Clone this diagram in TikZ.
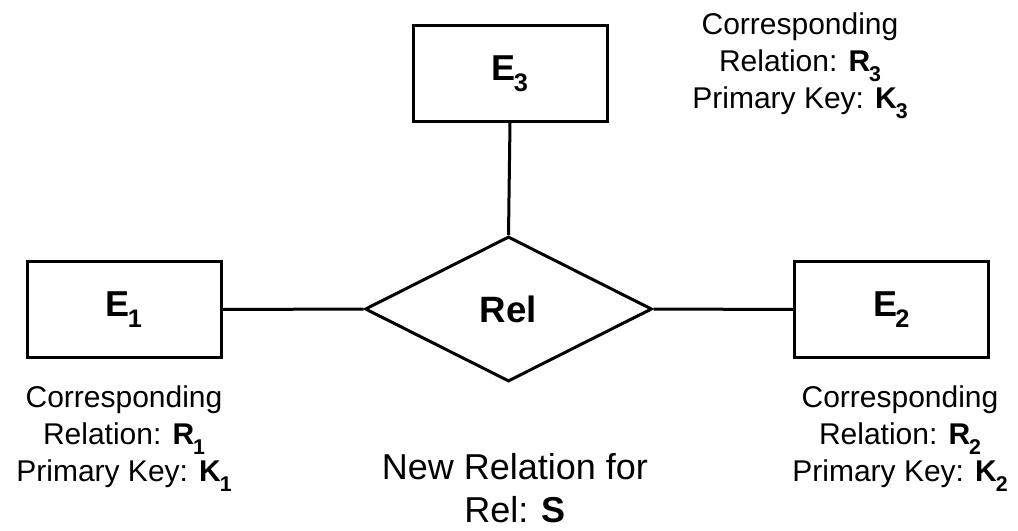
\documentclass[tikz,border=0pt]{standalone}
\usepackage{fontspec}
\setmainfont{Liberation Sans}
\usetikzlibrary{shapes.geometric}
\newcommand\lsub[1]{\kern-0.8pt\raisebox{-8pt}{\fontsize{16}{16}\selectfont\bfseries #1}}
\newcommand\esub[1]{\kern-1.5pt\raisebox{-8pt}{\fontsize{19}{19}\selectfont\bfseries #1}}
\begin{document}
\begin{tikzpicture}[x=0.75pt,y=-0.75pt,line width=2.25pt,
  entity/.style={draw,rectangle,minimum width=145.5pt,minimum height=71.5pt,inner sep=0pt,
    font=\fontsize{27}{27}\selectfont\bfseries},
  relship/.style={draw,diamond,minimum width=215.25pt,minimum height=108.75pt,inner sep=0pt,
    font=\fontsize{27.5}{27.5}\selectfont\bfseries},
  info/.style={anchor=north,inner sep=0pt,align=center,
    font=\fontsize{22.5}{27.75}\selectfont},
  newrel/.style={anchor=north,inner sep=0pt,align=center,
    font=\fontsize{27}{32.5}\selectfont},
  conn/.style={draw,line width=2.25pt}]
\useasboundingbox (0,0) rectangle (1018,531);
\node[entity] (e3) at (510,73.5) {E\esub{3}};
\node[entity] (e1) at (124,309.5) {E\esub{1}};
\node[entity] (e2) at (891.5,309.5) {E\esub{2}};
\node[relship] (rel) at (508.5,309) {Rel};
\draw[conn] (e3.south) -- (rel.north);
\draw[conn] (e1.east) -- (rel.west);
\draw[conn] (rel.east) -- (e2.west);
\node[info] (t3) at (800,11) {Corresponding\\Relation: \textbf{R}\lsub{3}\\Primary Key: \textbf{K}\lsub{3}};
\node[info] (t1) at (124,384) {Corresponding\\Relation: \textbf{R}\lsub{1}\\Primary Key: \textbf{K}\lsub{1}};
\node[info] (t2) at (900,384) {Corresponding\\Relation: \textbf{R}\lsub{2}\\Primary Key: \textbf{K}\lsub{2}};
\node[newrel] (s) at (515,452) {New Relation for\\Rel: \textbf{S}};
\end{tikzpicture}
\end{document}
